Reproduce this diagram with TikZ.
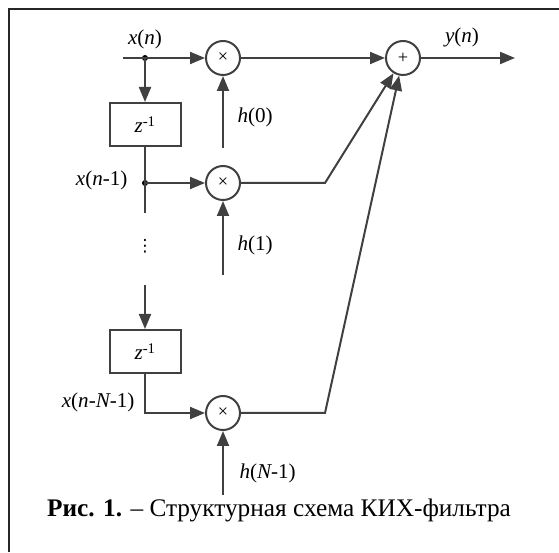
\documentclass[tikz,border=0pt]{standalone}
\usepackage{fontspec}
\setmainfont{Liberation Serif}
\newfontfamily\symfont{DejaVu Sans}
\usetikzlibrary{arrows.meta, positioning}

\definecolor{wirecol}{HTML}{404040}

\begin{document}
\begin{tikzpicture}[>={Triangle[length=0.75cm, width=0.6cm]},
    wire/.style={line width=0.1cm, draw=wirecol},
    mult/.style={circle, draw=wirecol, line width=0.1cm, fill=white, minimum size=1.7cm, inner sep=0pt, font=\fontsize{26}{28}\selectfont},
    delay/.style={rectangle, draw=wirecol, line width=0.1cm, fill=white, minimum width=3.55cm, minimum height=2.15cm, inner sep=0pt},
    lbl/.style={font=\fontsize{30}{36}\selectfont, inner sep=2pt},
    junc/.style={circle, fill=black, minimum size=0.3cm, inner sep=0pt}]
    \useasboundingbox (0,0) rectangle (27.95,27.6);

    % рамка
    \draw[line width=0.1cm, draw=black!85] (0.45,0) -- (0.45,27.15) -- (27.95,27.15);

    % 1. умножители и сумматор
    \node[mult] (mulA) at (11.15,24.7) {×};
    \node[mult] (mulB) at (11.15,18.45) {×};
    \node[mult] (mulC) at (11.15,6.95) {×};
    \node[mult] (sum) at (20.15,24.7) {+};

    % 2. линии задержки
    \node[delay, font=\fontsize{30}{36}\selectfont] (delayA) at (7.25,21.375) {{\itshape z}\textsuperscript{-1}};
    \node[delay, font=\fontsize{30}{36}\selectfont] (delayB) at (7.25,10.025) {{\itshape z}\textsuperscript{-1}};

    % 3. точки ветвления и свободные концы
    \coordinate (xin) at (6.15,24.7);
    \node[junc] (tapA) at (7.25,24.7) {};
    \node[junc] (tapB) at (7.25,18.45) {};
    \coordinate (tapBend) at (7.25,16.95);
    \coordinate (dlyIn) at (7.25,13.35);
    \coordinate (tapC) at (7.25,6.95);
    \coordinate (kneeB) at (16.25,18.45);
    \coordinate (kneeC) at (16.25,6.95);
    \coordinate (yout) at (25.75,24.7);
    \coordinate (hA) at (11.15,20.2);
    \coordinate (hB) at (11.15,13.85);
    \coordinate (hC) at (11.15,2.85);

    % 4. соединения
    \draw[wire, ->] (xin) -- (tapA.center) -- (mulA);
    \draw[wire, ->] (tapA.center) -- (delayA);
    \draw[wire] (delayA) -- (tapB.center) -- (tapBend);
    \draw[wire, ->] (tapB.center) -- (mulB);
    \draw[wire, ->] (dlyIn) -- (delayB);
    \draw[wire, ->] (delayB) -- (tapC) -- (mulC);
    \draw[wire, ->] (mulA) -- (sum);
    \draw[wire, ->] (mulB) -- (kneeB) -- (sum);
    \draw[wire, ->] (mulC) -- (kneeC) -- (sum);
    \draw[wire, ->] (sum) -- (yout);
    \draw[wire, ->] (hA) -- (mulA);
    \draw[wire, ->] (hB) -- (mulB);
    \draw[wire, ->] (hC) -- (mulC);

    % 5. подписи
    \node[lbl] (xnlab) at (7.25,25.65) {{\itshape x}({\itshape n})};
    \node[lbl, anchor=east] (xn1lab) at (6.45,18.6) {{\itshape x}({\itshape n}-1)};
    \node[lbl, anchor=east] (xnNlab) at (6.8,7.5) {{\itshape x}({\itshape n}-{\itshape N}-1)};
    \node[lbl, anchor=west] (hAlab) at (11.8,21.75) {{\itshape h}(0)};
    \node[lbl, anchor=west] (hBlab) at (11.8,15.35) {{\itshape h}(1)};
    \node[lbl, anchor=west] (hClab) at (11.9,3.95) {{\itshape h}({\itshape N}-1)};
    \node[lbl] (ynlab) at (23.1,25.75) {{\itshape y}({\itshape n})};
    \node[lbl, font=\symfont\fontsize{24}{28}\selectfont] (vdots) at (7.25,15.3) {⋮};

    % подпись рисунка
    \node[font=\fontsize{36}{42}\selectfont] (caption) at (13.95,2.1) {\textbf{Рис. 1.} – Структурная схема КИХ-фильтра};
\end{tikzpicture}
\end{document}
